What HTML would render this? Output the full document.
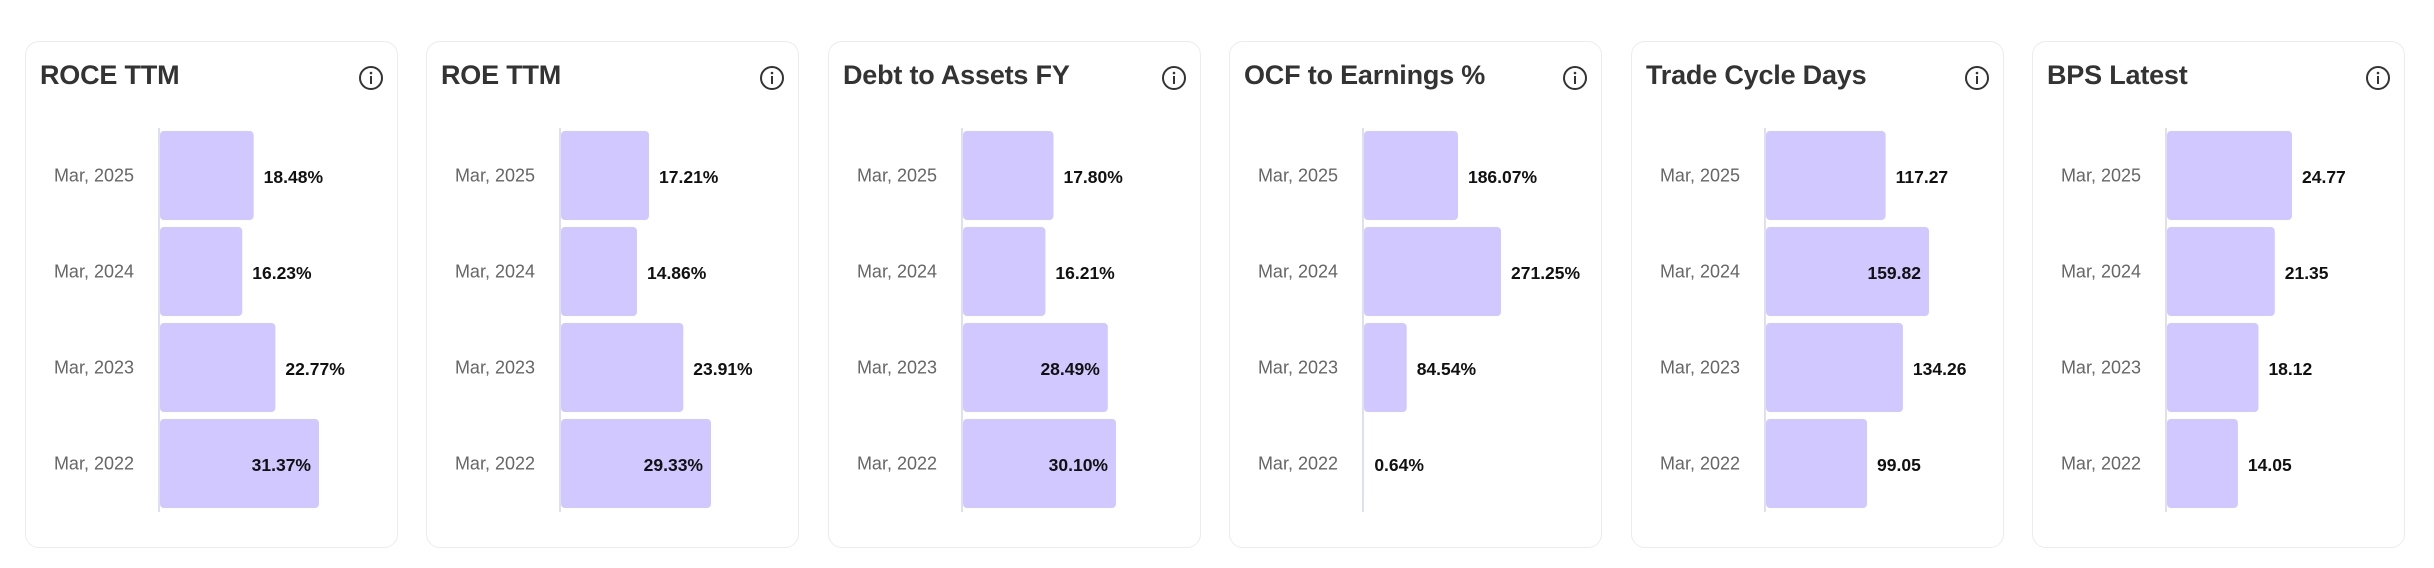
<!DOCTYPE html>
<html><head><meta charset="utf-8">
<style>
html,body{margin:0;padding:0;background:#fff;}
body{width:2434px;height:568px;position:relative;overflow:hidden;font-family:"Liberation Sans",sans-serif;}
.card{position:absolute;top:41px;width:373px;height:507px;border:1.5px solid #ececec;border-radius:14px;box-sizing:border-box;background:#fff;}
.title{position:absolute;left:14px;top:18px;font-size:27px;font-weight:bold;color:#333;letter-spacing:-0.2px;}
.info{position:absolute;left:332px;top:23px;}
svg.chart{position:absolute;left:0;top:0;}
</style></head><body>
<div id="root"></div>
<script>
const categories = ["Mar, 2025","Mar, 2024","Mar, 2023","Mar, 2022"];
const titles = ["ROCE TTM","ROE TTM","Debt to Assets FY","OCF to Earnings %","Trade Cycle Days","BPS Latest"];
const roceValues = [18.48,16.23,22.77,31.37];
const roeValues = [17.21,14.86,23.91,29.33];
const debtValues = [17.80,16.21,28.49,30.10];
const ocfValues = [186.07,271.25,84.54,0.64];
const tradeValues = [117.27,159.82,134.26,99.05];
const bpsValues = [24.77,21.35,18.12,14.05];
const suffixes = ["%","%","%","%","",""];
const seriesList = [roceValues,roeValues,debtValues,ocfValues,tradeValues,bpsValues];
// domain max per card (axis scale)
const domainMax = [31.37,29.33,30.10,271.25,159.82,24.77];
const rangeMax = [159,150,153,137,163,125];

const NS="http://www.w3.org/2000/svg";
const root=document.getElementById('root');
const cardLefts=[25,426,828,1229,1631,2032];
seriesList.forEach((vals,ci)=>{
  const card=document.createElement('div');
  card.className='card';
  card.style.left=cardLefts[ci]+'px';
  
  
  const t=document.createElement('div');
  t.className='title';t.textContent=titles[ci];
  
  
  card.appendChild(t);
  const info=document.createElementNS(NS,'svg');
  info.setAttribute('class','info');info.setAttribute('width','26');info.setAttribute('height','26');
  info.innerHTML='<circle cx="13" cy="13" r="11" fill="none" stroke="#333" stroke-width="2"/><rect x="12" y="11" width="2" height="8" fill="#333"/><circle cx="13" cy="8" r="1.3" fill="#333"/>';
  
  
  card.appendChild(info);
  const svg=document.createElementNS(NS,'svg');
  svg.setAttribute('class','chart');svg.setAttribute('width','373');svg.setAttribute('height','507');
  const x0=134, y0=89, band=96, bh=89;
  const xScale=v=>v/domainMax[ci]*rangeMax[ci];
  const yScale=i=>y0+i*band;
  const axis=document.createElementNS(NS,'line');
  axis.setAttribute('x1',x0-1);axis.setAttribute('x2',x0-1);axis.setAttribute('y1',86);axis.setAttribute('y2',470);
  axis.setAttribute('stroke','#cfd6ee');axis.setAttribute('stroke-width','1.5');
  
  
  svg.appendChild(axis);
  vals.forEach((v,i)=>{
    const y=yScale(i), w=xScale(v);
    const lab=document.createElementNS(NS,'text');
    lab.setAttribute('x',108);lab.setAttribute('y',y+bh/2+1);lab.setAttribute('text-anchor','end');
    lab.setAttribute('font-size','18');lab.setAttribute('fill','#666');lab.setAttribute('dominant-baseline','middle');
    lab.textContent=categories[i];
    
    
    svg.appendChild(lab);
    if(w>0.5){
      const r=document.createElementNS(NS,'rect');
      r.setAttribute('x',x0);r.setAttribute('y',y);r.setAttribute('width',w);r.setAttribute('height',bh);
      r.setAttribute('rx',4);r.setAttribute('fill','#d0c8fe');
      
      
      svg.appendChild(r);
    }
    const vt=document.createElementNS(NS,'text');
    const inside=w>140;
    vt.setAttribute('x',inside? x0+w-8 : x0+w+10);
    vt.setAttribute('text-anchor',inside?'end':'start');
    vt.setAttribute('y',y+bh/2+3);vt.setAttribute('dominant-baseline','middle');
    vt.setAttribute('font-size','17.5');vt.setAttribute('font-weight','bold');vt.setAttribute('fill','#111');
    vt.textContent=v.toFixed(2)+suffixes[ci];
    
    
    svg.appendChild(vt);
  });
  card.appendChild(svg);
  root.appendChild(card);
});
</script>
</body></html>
